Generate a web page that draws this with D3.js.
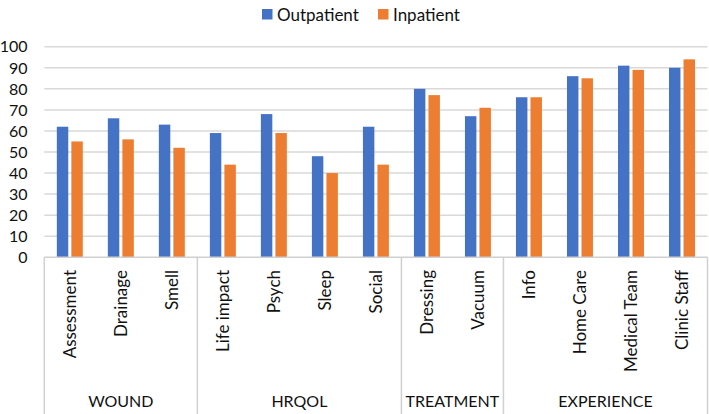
<!DOCTYPE html>
<html>
<head>
<meta charset="utf-8">
<script src="https://cdn.jsdelivr.net/npm/d3@7"></script>
<style>
  html, body { margin: 0; padding: 0; background: #fff; }
  svg { display: block; }
  text { font-family: Lato, "Open Sans", sans-serif; fill: #111; }
</style>
</head>
<body>
<svg id="chart" width="709" height="414"></svg>
<script>
// ---- data ----
const categories = ["Assessment", "Drainage", "Smell", "Life impact", "Psych", "Sleep", "Social",
                    "Dressing", "Vacuum", "Info", "Home Care", "Medical Team", "Clinic Staff"];
const groups = ["WOUND", "HRQOL", "TREATMENT", "EXPERIENCE"];
const groupSizes = [3, 4, 2, 4];
const seriesNames = ["Outpatient", "Inpatient"];
const outpatient = [62, 66, 63, 59, 68, 48, 62, 80, 67, 76, 86, 91, 90];
const inpatient  = [55, 56, 52, 44, 59, 40, 44, 77, 71, 76, 85, 89, 94];
const yTicks = [0, 10, 20, 30, 40, 50, 60, 70, 80, 90, 100];
const colors = ["#4472C4", "#ED7D31"];

// ---- layout ----
const W = 709, H = 414;
const mLeft = 44.3, mRight = 707.5, mTop = 46.7, mBottom = 257.3;
const svg = d3.select("#chart");

const x0 = d3.scaleBand().domain(categories).range([mLeft, mRight]).paddingInner(0).paddingOuter(0);
const x1 = d3.scaleBand().domain(seriesNames).range([0, x0.bandwidth()])
  .paddingInner(0.2128).paddingOuter(0.861);
const y = d3.scaleLinear().domain([0, 100]).range([mBottom, mTop]);

// gridlines
svg.append("g").selectAll("line").data(yTicks.filter(d => d > 0)).join("line")
  .attr("x1", mLeft).attr("x2", mRight)
  .attr("y1", d => y(d)).attr("y2", d => y(d))
  .attr("stroke", "#d9d9d9").attr("stroke-width", 1.5);

// y labels
svg.append("g").selectAll("text").data(yTicks).join("text")
  .attr("x", 27.5).attr("y", d => y(d)).attr("dy", "0.36em")
  .attr("text-anchor", "end").attr("font-size", 16)
  .text(d => d);

// bars
const data = categories.map((c, i) => ({ c, vals: [outpatient[i], inpatient[i]] }));
const cg = svg.append("g").selectAll("g").data(data).join("g")
  .attr("transform", d => `translate(${x0(d.c)},0)`);
cg.selectAll("rect").data(d => d.vals.map((v, j) => ({ s: seriesNames[j], v, j }))).join("rect")
  .attr("x", d => x1(d.s)).attr("width", x1.bandwidth())
  .attr("y", d => y(d.v)).attr("height", d => y(0) - y(d.v))
  .attr("fill", d => colors[d.j]);

// axis line + group boxes
svg.append("line").attr("x1", mLeft).attr("x2", mRight).attr("y1", mBottom).attr("y2", mBottom)
  .attr("stroke", "#d0d0d0").attr("stroke-width", 1.5);

let idx = 0;
const groupSpans = groups.map((g, i) => {
  const startCat = categories[idx];
  const endCat = categories[idx + groupSizes[i] - 1];
  idx += groupSizes[i];
  return { g, x1: x0(startCat), x2: x0(endCat) + x0.bandwidth() };
});
const sepX = [groupSpans[0].x1].concat(groupSpans.map(d => d.x2));
svg.append("g").selectAll("line").data(sepX).join("line")
  .attr("x1", d => d).attr("x2", d => d).attr("y1", mBottom).attr("y2", H)
  .attr("stroke", "#d0d0d0").attr("stroke-width", 1.5);

// category labels
svg.append("g").selectAll("text").data(categories).join("text")
  .attr("transform", d => `translate(${x0(d) + x0.bandwidth() / 2 + 6.5},270) rotate(-90)`)
  .attr("text-anchor", "end").attr("font-size", 17)
  .text(d => d);

// group labels
svg.append("g").selectAll("text").data(groupSpans).join("text")
  .attr("x", d => (d.x1 + d.x2) / 2).attr("y", 407)
  .attr("text-anchor", "middle").attr("font-size", 16)
  .text(d => d.g);

// legend
const legend = svg.append("g");
const legendX = [262, 378];
seriesNames.forEach((s, i) => {
  legend.append("rect").attr("x", legendX[i]).attr("y", 9).attr("width", 10.5).attr("height", 10.5)
    .attr("fill", colors[i]);
  legend.append("text").attr("x", legendX[i] + 15).attr("y", 20.5)
    .attr("font-size", 17).text(s);
});
</script>
</body>
</html>
